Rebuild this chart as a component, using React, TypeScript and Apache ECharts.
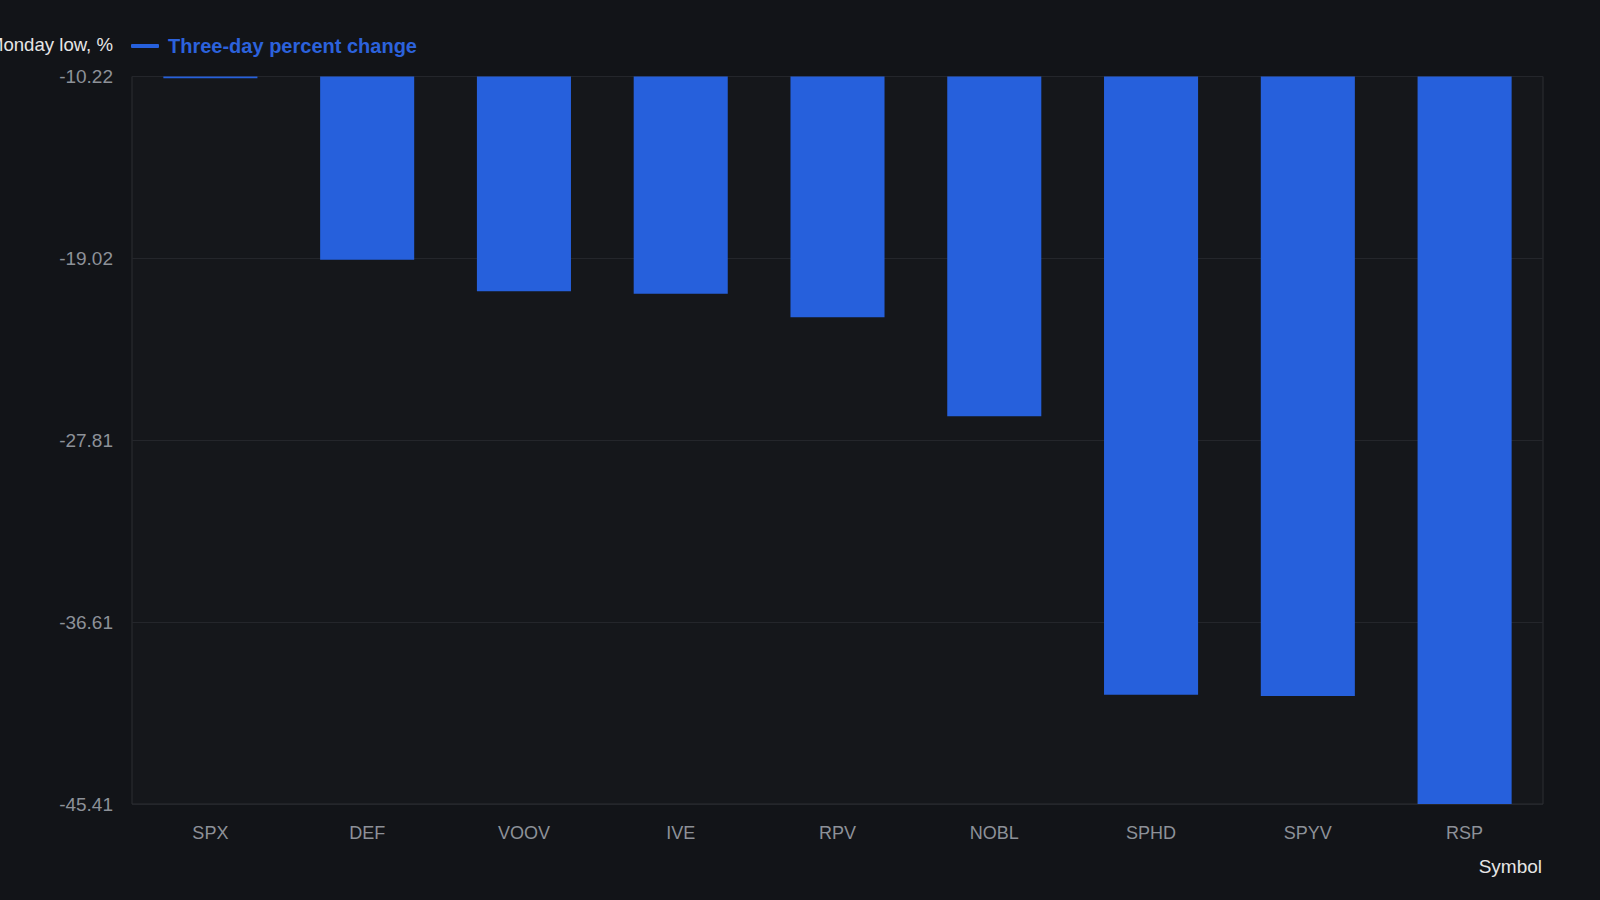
import React, { useEffect, useRef } from "react";
import * as echarts from "echarts";

const symbols = ["SPX", "DEF", "VOOV", "IVE", "RPV", "NOBL", "SPHD", "SPYV", "RSP"];
const threeDayChange = [-10.3, -19.08, -20.61, -20.73, -21.87, -26.65, -40.12, -40.19, -45.41];
const yTicks = [-45.41, -36.61, -27.81, -19.02, -10.22];
const seriesName = "Three-day percent change";
const yAxisName = "Change from Monday low, %";
const xAxisName = "Symbol";

const FONT = "'Liberation Sans', Arial, Helvetica, sans-serif";
const BLUE = "#2660dc";

export default function App() {
  const ref = useRef<HTMLDivElement>(null);
  useEffect(() => {
    document.body.style.margin = "0";
    document.body.style.background = "#121418";
    const chart = echarts.init(ref.current!, null, { renderer: "svg" });
    chart.setOption({
      animation: false,
      backgroundColor: "#121418",
      textStyle: { fontFamily: FONT },
      legend: {
        left: 131,
        top: 36,
        padding: 0,
        icon: "roundRect",
        itemWidth: 28,
        itemHeight: 4,
        textStyle: {
          color: "#2c62dc",
          fontSize: 20,
          fontWeight: "bold",
          fontFamily: FONT,
          padding: [0, 0, 0, 4],
        },
        data: [{ name: seriesName, itemStyle: { color: BLUE } }],
      },
      grid: {
        left: 132,
        right: 57,
        top: 76.5,
        bottom: 96,
        show: true,
        backgroundColor: "#15171b",
        borderColor: "#2c2e33",
        borderWidth: 1,
        containLabel: false,
        outerBoundsMode: "none",
      },
      xAxis: {
        type: "category",
        data: symbols,
        name: xAxisName,
        nameLocation: "end",
        nameGap: -1,
        nameTextStyle: {
          color: "#e6e6e6",
          fontSize: 19,
          fontFamily: FONT,
          align: "right",
          verticalAlign: "top",
          padding: [53, 0, 0, 0],
        },
        axisLine: { show: false },
        axisTick: { show: false },
        axisLabel: { color: "#8d9198", fontSize: 18, margin: 20, fontFamily: FONT },
        splitLine: { show: false },
      },
      yAxis: {
        type: "value",
        min: -45.41,
        max: -10.22,
        name: yAxisName,
        nameLocation: "end",
        nameGap: 32,
        nameTextStyle: {
          color: "#e6e6e6",
          fontSize: 18.6,
          fontFamily: FONT,
          align: "right",
          verticalAlign: "middle",
          padding: [0, 19, 0, 0],
        },
        axisLine: { show: false },
        axisTick: { show: false, customValues: yTicks },
        axisLabel: {
          customValues: yTicks,
          color: "#8d9198",
          fontSize: 19,
          margin: 19,
          fontFamily: FONT,
          formatter: (v: number) => v.toFixed(2),
        },
        splitLine: { show: true, lineStyle: { color: "#24262b", width: 1 } },
      },
      series: [
        {
          name: seriesName,
          type: "bar",
          data: threeDayChange,
          barWidth: "60%",
          itemStyle: { color: BLUE },
        },
      ],
    });
    return () => chart.dispose();
  }, []);
  return (
    <div
      ref={ref}
      style={{ position: "fixed", left: 0, top: 0, width: "1600px", height: "900px" }}
    />
  );
}
